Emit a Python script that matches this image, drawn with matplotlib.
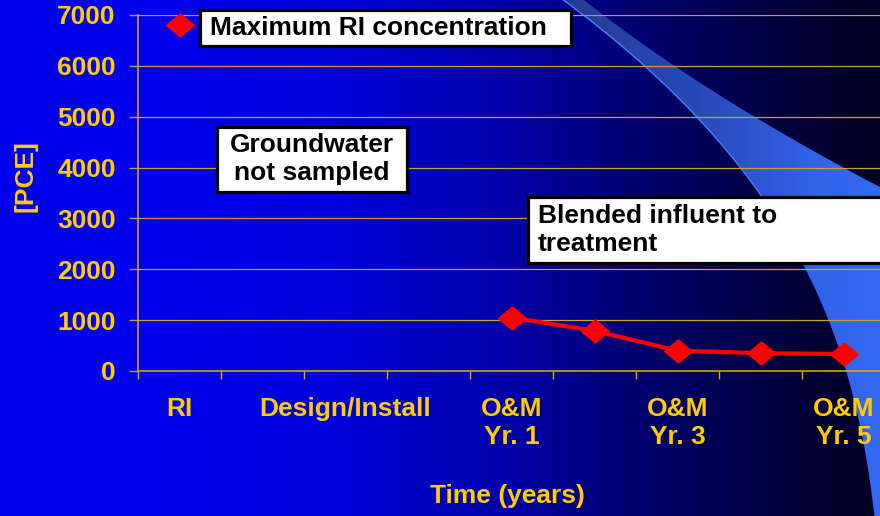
import numpy as np
import matplotlib
matplotlib.use('Agg')
import matplotlib.pyplot as plt
from matplotlib.patches import Polygon, Rectangle
from matplotlib.path import Path

# ---------------- data ----------------
categories = ['RI', '', 'Design/Install', '', 'O&M\nYr. 1', '', 'O&M\nYr. 3', '', 'O&M\nYr. 5']
pce_values = [6800, np.nan, np.nan, np.nan, 1050, 790, 400, 350, 335]
y_ticks = [0, 1000, 2000, 3000, 4000, 5000, 6000, 7000]
x_label = 'Time (years)'
y_label = '[PCE]'
note_max = 'Maximum RI concentration'
note_gw = 'Groundwater\nnot sampled'
note_blend = 'Blended influent to\ntreatment'

# ---------------- style ----------------
W, H = 880, 516
GOLD = '#FFCC00'
GRID = '#C8A02A'
FONT = 'Liberation Sans'
FS = 19

fig = plt.figure(figsize=(W / 100, H / 100), dpi=100)
fig.patch.set_facecolor('#0000F0')

# background (pixel coordinates)
bg = fig.add_axes([0, 0, 1, 1], zorder=0)
bg.set_xlim(0, W)
bg.set_ylim(H, 0)
bg.axis('off')

xs = np.arange(W)
blue = np.interp(xs, [0, 140, 340, 505, 618, 786, 880], [240, 238, 218, 168, 118, 60, 32]) / 255.0
grad = np.zeros((2, W, 3))
grad[..., 2] = blue
bg.imshow(grad, extent=[0, W, H, 0], aspect='auto', interpolation='bilinear', zorder=0)

# decorative swoosh (smooth curves)
ys = np.linspace(0, H, 300)
cA = np.polyfit([0, 67, 100, 117, 195, 265, 320, 370, 450, 516],
                [563, 647, 680, 697, 760, 802, 830, 847, 863, 875], 4)
curveA = np.polyval(cA, ys)
ysB = np.linspace(0, 192, 100)
cB = np.polyfit([0, 67, 117, 167, 190], [585, 672, 760, 840, 886], 2)
curveB = np.polyval(cB, ysB)
poly_pts = np.vstack([np.column_stack([curveA, ys]),
                      [[895, H], [895, 192]],
                      np.column_stack([curveB[::-1], ysB[::-1]])])
swoosh = Polygon(poly_pts, closed=True, facecolor='none', edgecolor='none')
bg.add_patch(swoosh)
sw = np.zeros((2, W, 3))
sw[..., 0] = np.interp(xs, [560, 700, 820, 880], [34, 40, 50, 52]) / 255.0
sw[..., 1] = np.interp(xs, [560, 700, 820, 880], [60, 74, 100, 104]) / 255.0
sw[..., 2] = np.interp(xs, [560, 700, 820, 880], [150, 185, 235, 242]) / 255.0
im = bg.imshow(sw, extent=[0, W, H, 0], aspect='auto', interpolation='bilinear', zorder=1)
im.set_clip_path(swoosh)
bg.plot(curveA[:120], ys[:120], color='#4A7DFF', lw=1.0, zorder=2)
bg.set_xlim(0, W)
bg.set_ylim(H, 0)

# ---------------- main axes ----------------
ax = fig.add_axes([138 / W, (H - 371) / H, 747 / W, 356 / H], zorder=2)
ax.patch.set_alpha(0)
x = np.arange(len(categories))

diamond = Path([(-1.2, 0), (0, 1), (1.2, 0), (0, -1), (-1.2, 0)],
               [Path.MOVETO, Path.LINETO, Path.LINETO, Path.LINETO, Path.CLOSEPOLY])
ax.plot(x, pce_values, color='#FF0000', lw=3, marker=diamond, ms=20,
        mfc='#FF0000', mec='#FF0000', zorder=5, clip_on=False)

ax.set_xlim(-0.5, len(categories) - 0.5)
ax.set_ylim(0, 7000)
ax.set_yticks(y_ticks)
ax.set_yticklabels([str(v) for v in y_ticks])
ax.set_xticks(x)
ax.set_xticklabels(categories)
ax.set_xticks(np.arange(-0.5, len(categories) - 0.5, 1), minor=True)

ax.grid(axis='y', color=GRID, lw=0.9, zorder=1)
ax.set_axisbelow(True)
for s in ['top', 'right']:
    ax.spines[s].set_visible(False)
for s in ['left', 'bottom']:
    ax.spines[s].set_color('#E0B000')
    ax.spines[s].set_linewidth(1.1)

ax.tick_params(axis='y', which='major', length=6.5, width=1.0, color='#B09A68',
               pad=9.5, labelcolor=GOLD)
ax.tick_params(axis='x', which='major', length=0, pad=19, labelcolor=GOLD)
ax.tick_params(axis='x', which='minor', length=6, width=1.0, color='#D4AA20', direction='out')

for lbl in ax.get_yticklabels() + ax.get_xticklabels():
    lbl.set_fontfamily(FONT)
    lbl.set_fontweight('bold')
    lbl.set_fontsize(FS)
for lbl in ax.get_xticklabels():
    lbl.set_linespacing(1.18)

ax.set_xlabel(x_label, fontfamily=FONT, fontweight='bold', fontsize=FS, color=GOLD, va='center')
ax.xaxis.set_label_coords((507 - 138) / 747, (371 - 496) / 356)
ax.set_ylabel(y_label, fontfamily=FONT, fontweight='bold', fontsize=FS, color=GOLD, va='center')
ax.yaxis.set_label_coords((25 - 138) / 747, (371 - 176) / 356)

# ---------------- annotation boxes (overlay, pixel coordinates) ----------------
ov = fig.add_axes([0, 0, 1, 1], zorder=3)
ov.set_xlim(0, W)
ov.set_ylim(H, 0)
ov.axis('off')
ov.patch.set_alpha(0)

boxes = [((200, 10, 371, 36), (210, 28), 'left', note_max),
         ((217, 127, 190, 65), (312, 159), 'center', note_gw),
         ((528, 197, 360, 66), (538, 230), 'left', note_blend)]
for (bx, by, bw, bh), (tx, ty), ha, txt in boxes:
    ov.add_patch(Rectangle((bx, by), bw, bh, facecolor='white', edgecolor='black',
                           lw=2.3, zorder=3, clip_on=False))
    ov.text(tx, ty, txt, ha=ha, va='center', multialignment=ha, fontfamily=FONT,
            fontweight='bold', fontsize=FS, color='black', linespacing=1.25, zorder=4)

fig.savefig('out.png', dpi=100)
